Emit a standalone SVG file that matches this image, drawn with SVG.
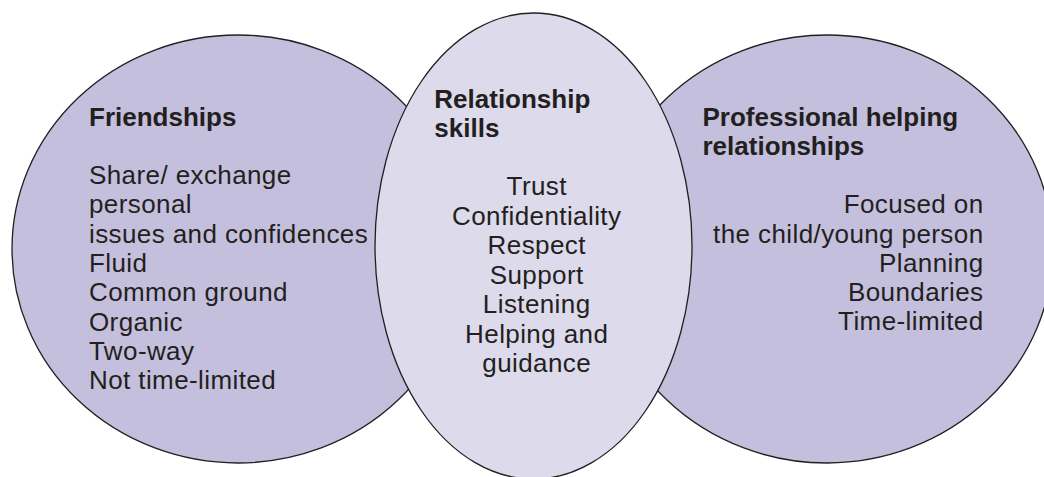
<svg xmlns="http://www.w3.org/2000/svg" width="1044" height="477" viewBox="0 0 1044 477">
<style>
.outer{fill:#c4bfdd;stroke:#231f20;stroke-width:1.3}
.inner{fill:#dddaec;stroke:#231f20;stroke-width:1.3}
text{font-family:"Liberation Sans",Arial,Helvetica,sans-serif;font-size:26px;fill:#231f20}
.h{font-weight:bold}
.b{letter-spacing:0.4px}
</style>
<rect width="1044" height="477" fill="#ffffff"/>
<g id="friendships">
<ellipse class="outer" cx="238" cy="249" rx="226" ry="214"/>
<text class="h" x="89" y="125.5">Friendships</text>
<text class="b" x="89" y="184">Share/ exchange</text>
<text class="b" x="89" y="213.3">personal</text>
<text class="b" x="89" y="242.6">issues and confidences</text>
<text class="b" x="89" y="272">Fluid</text>
<text class="b" x="89" y="301.3">Common ground</text>
<text class="b" x="89" y="330.6">Organic</text>
<text class="b" x="89" y="360">Two-way</text>
<text class="b" x="89" y="389.3">Not time-limited</text>
</g>
<g id="professional">
<ellipse class="outer" cx="827" cy="249" rx="226" ry="214"/>
<text class="h" x="702.5" y="125.5">Professional helping</text>
<text class="h" x="702.5" y="154.5">relationships</text>
<g text-anchor="end">
<text class="b" x="983.5" y="213.3">Focused on</text>
<text class="b" x="983.5" y="242.5">the child/young person</text>
<text class="b" x="983.5" y="271.7">Planning</text>
<text class="b" x="983.5" y="301">Boundaries</text>
<text class="b" x="983.5" y="330.3">Time-limited</text>
</g>
</g>
<g id="skills">
<ellipse class="inner" cx="533.5" cy="246" rx="158.5" ry="233"/>
<text class="h" x="434.3" y="107.7">Relationship</text>
<text class="h" x="434.3" y="136.7">skills</text>
<g text-anchor="middle">
<text class="b" x="536.7" y="195">Trust</text>
<text class="b" x="536.7" y="224.5">Confidentiality</text>
<text class="b" x="536.7" y="254">Respect</text>
<text class="b" x="536.7" y="283.5">Support</text>
<text class="b" x="536.7" y="313">Listening</text>
<text class="b" x="536.7" y="342.5">Helping and</text>
<text class="b" x="536.7" y="372">guidance</text>
</g>
</g>
<g id="connectors"></g>
</svg>
